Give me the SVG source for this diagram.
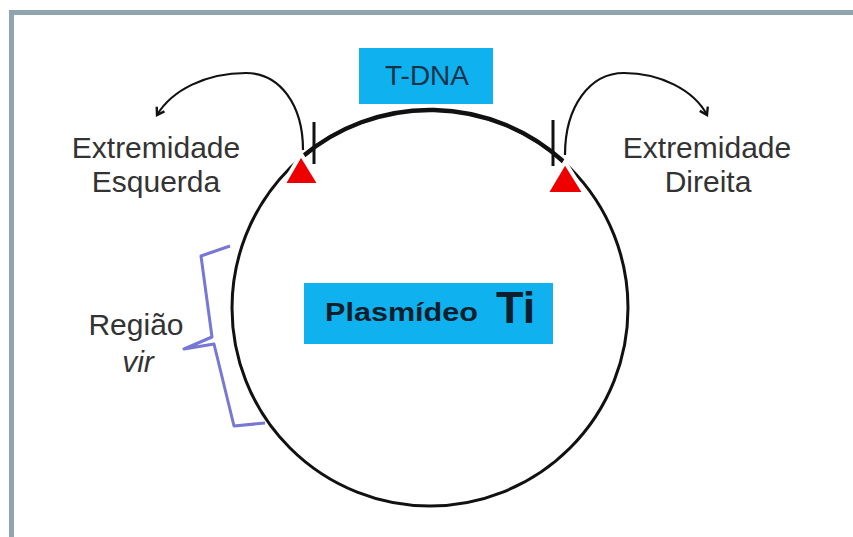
<svg xmlns="http://www.w3.org/2000/svg" width="853" height="537" viewBox="0 0 853 537">
<style>
.lbl{font-family:"Liberation Sans",Arial,sans-serif;font-size:30px;fill:#333;text-anchor:middle}
.conn{fill:none;stroke:#111;stroke-width:2.2}
.tri{fill:#ee0000;stroke:#fff;stroke-width:4;stroke-linejoin:miter}
.tick{stroke:#111;stroke-width:3}
</style>
<defs>
<marker id="ah" markerWidth="12" markerHeight="12" refX="9" refY="6" orient="auto" markerUnits="userSpaceOnUse">
<path d="M2,1.5 L9,6 L2,10.5" fill="none" stroke="#111" stroke-width="2.4"/>
</marker>
</defs>
<rect width="853" height="537" fill="#fff"/>
<g id="frame">
<path d="M11.5,537 V12.5 H853" fill="none" stroke="#8fa4ad" stroke-width="5"/>
</g>
<g id="plasmid">
<circle cx="430" cy="308" r="198" fill="none" stroke="#111" stroke-width="3"/>
<path d="M302,157 A198,198 0 0,1 564,162" fill="none" stroke="#111" stroke-width="4.5"/>
</g>
<g id="connectors">
<path class="conn" d="M303,150 C303,105 280,73 246,73 C206,73 172,90 157,115" marker-end="url(#ah)"/>
<path class="conn" d="M565,155 C565,106 590,73 624,73 C660,73 694,90 707,115" marker-end="url(#ah)"/>
</g>
<g id="left-end">
<line class="tick" x1="314" y1="122" x2="314" y2="164"/>
<polygon class="tri" points="301,154 283,185 320,185"/>
<text class="lbl" x="156" y="158">Extremidade</text>
<text class="lbl" x="156" y="192">Esquerda</text>
</g>
<g id="right-end">
<line class="tick" x1="553" y1="120" x2="553" y2="166"/>
<polygon class="tri" points="565,162 546,194 585,194"/>
<text class="lbl" x="707" y="158">Extremidade</text>
<text class="lbl" x="708" y="192">Direita</text>
</g>
<g id="tdna">
<rect x="359" y="48" width="134" height="56" fill="#0fb2ee"/>
<text x="427" y="85" font-family="Liberation Sans,Arial,sans-serif" font-size="28" fill="#13324a" text-anchor="middle">T-DNA</text>
</g>
<g id="plasmideo-ti">
<rect x="304" y="283" width="249" height="61" fill="#0fb2ee"/>
<text x="325" y="321" font-family="Liberation Sans,Arial,sans-serif" font-weight="bold" font-size="26" fill="#0d1f2d" textLength="153" lengthAdjust="spacingAndGlyphs">Plasmídeo</text>
<text x="496" y="323" font-family="Liberation Sans,Arial,sans-serif" font-weight="bold" font-size="45" fill="#0d1f2d">Ti</text>
</g>
<g id="vir-region">
<polyline points="230,246 201,256 212,337 184,349 214,344 234,426 265,423" fill="none" stroke="#7777d6" stroke-width="3" stroke-linejoin="round"/>
<text class="lbl" x="136" y="335">Região</text>
<text class="lbl" x="138" y="372" font-style="italic">vir</text>
</g>
</svg>
